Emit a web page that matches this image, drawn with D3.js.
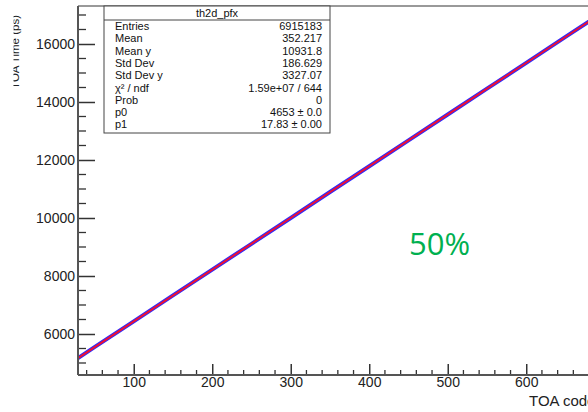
<!DOCTYPE html>
<meta charset="utf-8">
<style>body{margin:0;background:#fff}</style>
<svg width="588" height="412" font-family="'Liberation Sans', Arial, sans-serif"></svg>
<script src="https://cdn.jsdelivr.net/npm/d3@7"></script>
<script>

// profile points (TOA code vs TOA time in ps)
var toaCode = [29, 50, 100, 150, 200, 250, 300, 350, 400, 450, 500, 550, 600, 650, 720];
var toaTime = [5170, 5545, 6437, 7330, 8220, 9110, 10000, 10895, 11785, 12675, 13570, 14460, 15350, 16245, 17490];

// linear fit p0 + p1*x from the stats box
var fitParams = [4653, 17.83];

var yTicks = [6000, 8000, 10000, 12000, 14000, 16000];
var xTicks = [100, 200, 300, 400, 500, 600];

var statNames = ["Entries", "Mean", "Mean y", "Std Dev", "Std Dev y", "\u03c7\u00b2 / ndf", "Prob", "p0", "p1"];
var statValues = ["6915183", "352.217", "10931.8", "186.629", "3327.07", "1.59e+07 / 644", "0", "4653 \u00b1 0.0", "17.83 \u00b1 0.00"];

var svg = d3.select("svg"),
    padL = 78, padT = 6, padB = 375, padR = 620;

var x = d3.scaleLinear().domain([29, 29 + (padR - padL) / 0.785]).range([padL, padR]);
var y = d3.scaleLinear().domain([4586, 4586 + (padB - padT) / 0.029]).range([padB, padT]);

var frame = svg.append("g");
frame.append("line").attr("x1", padL).attr("x2", padR).attr("y1", padT).attr("y2", padT)
    .attr("stroke", "#999").attr("stroke-width", 2);

// data profile (blue) and fit (red)
var pts = toaCode.map(function(d, i) { return [d, toaTime[i]]; });
svg.append("path")
    .datum(pts)
    .attr("fill", "none")
    .attr("stroke", "#2b2bff")
    .attr("stroke-width", 4)
    .attr("d", d3.line().x(function(d) { return x(d[0]); }).y(function(d) { return y(d[1]); }));

var xd = x.domain();
svg.append("path")
    .datum(xd.map(function(v) { return [v, fitParams[0] + fitParams[1] * v]; }))
    .attr("fill", "none")
    .attr("stroke", "#ee1133")
    .attr("stroke-width", 2)
    .attr("d", d3.line().x(function(d) { return x(d[0]); }).y(function(d) { return y(d[1]); }));

// y axis
var yMinor = d3.range(4500, 17500, 500).filter(function(v) { return v > y.domain()[0] && v < y.domain()[1] && v % 2000 !== 0; });
var yAxis = svg.append("g").attr("transform", "translate(" + padL + ",0)");
yAxis.call(d3.axisLeft(y).tickValues(yTicks).tickSize(-17).tickSizeOuter(0).tickPadding(3).tickFormat(d3.format("d")));
yAxis.append("g").selectAll("line").data(yMinor).enter().append("line")
    .attr("x2", 8).attr("y1", y).attr("y2", y).attr("stroke", "#333").attr("stroke-width", 1.3);

// x axis
var xMinor = d3.range(40, 720, 20).filter(function(v) { return v % 100 !== 0; });
var xAxis = svg.append("g").attr("transform", "translate(0," + padB + ")");
xAxis.call(d3.axisBottom(x).tickValues(xTicks).tickSize(-11).tickSizeOuter(0).tickPadding(6));
xAxis.append("g").selectAll("line").data(xMinor).enter().append("line")
    .attr("y2", -5).attr("x1", x).attr("x2", x).attr("stroke", "#333").attr("stroke-width", 1.3);

svg.selectAll(".domain").remove();
svg.selectAll(".tick line").attr("stroke", "#333").attr("stroke-width", 1.5);
svg.selectAll(".tick text").attr("font-size", 14).attr("fill", "#222").attr("font-family", "'Liberation Sans', Arial, sans-serif");
xAxis.selectAll(".tick text").attr("dy", "0.45em");

frame.raise();
svg.append("line").attr("x1", padL).attr("x2", padL).attr("y1", padT).attr("y2", padB)
    .attr("stroke", "#555").attr("stroke-width", 2);
svg.append("line").attr("x1", padL).attr("x2", padR).attr("y1", padB).attr("y2", padB)
    .attr("stroke", "#555").attr("stroke-width", 2);

// axis titles (y title is cut on its left side in the original)
svg.append("clipPath").attr("id", "ycut").append("rect")
    .attr("x", 13.5).attr("y", 0).attr("width", 40).attr("height", 120);
svg.append("g")
    .attr("clip-path", "url(#ycut)")
  .append("text")
    .attr("transform", "translate(19,15)rotate(-90)")
    .attr("text-anchor", "end")
    .attr("font-size", 11.5)
    .attr("fill", "#222")
    .text("TOA Time (ps)");

svg.append("text")
    .attr("x", 529).attr("y", 406)
    .attr("font-size", 15)
    .attr("fill", "#222")
    .text("TOA code");

// stats box
var box = svg.append("g");
var bx0 = 104, bx1 = 330, by0 = 6, by1 = 133;
box.append("rect").attr("x", bx0).attr("y", by0).attr("width", bx1 - bx0).attr("height", by1 - by0)
    .attr("fill", "#fff").attr("stroke", "#444").attr("stroke-width", 1);
box.append("line").attr("x1", bx0).attr("x2", bx1).attr("y1", 20).attr("y2", 20).attr("stroke", "#444");
box.append("text").attr("x", (bx0 + bx1) / 2).attr("y", 16.5).attr("text-anchor", "middle")
    .attr("font-size", 11).attr("fill", "#111").text("th2d_pfx");

var rows = box.selectAll("g.row").data(statNames).enter().append("g")
    .attr("transform", function(d, i) { return "translate(0," + (30 + i * 12.3) + ")"; });
rows.append("text").attr("x", 115).attr("font-size", 11).attr("fill", "#111").text(function(d) { return d; });
rows.append("text").attr("x", 322).attr("text-anchor", "end").attr("font-size", 11).attr("fill", "#111")
    .text(function(d, i) { return statValues[i]; });

// annotation
svg.append("text")
    .attr("x", 409).attr("y", 255)
    .attr("font-family", "'Open Sans', 'Noto Sans', sans-serif")
    .attr("font-size", 31)
    .attr("fill", "#00b050")
    .text("50%");

</script>
